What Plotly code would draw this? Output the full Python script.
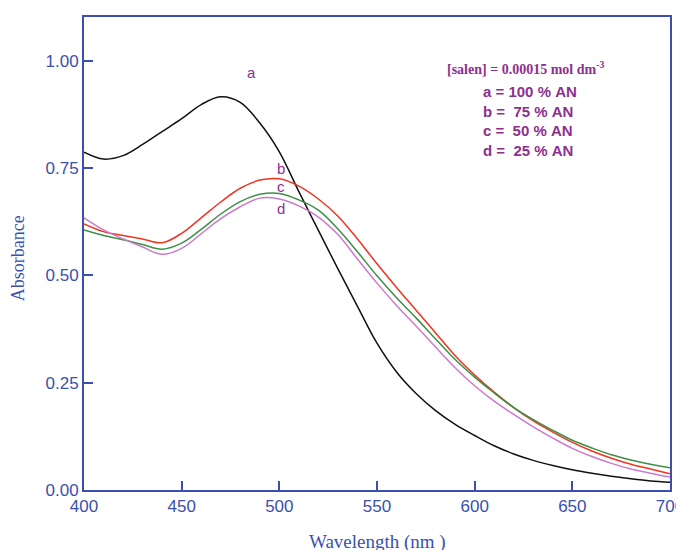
import plotly.graph_objects as go

wavelength = [400, 410, 420, 430, 440, 450, 460, 470, 480, 490, 500, 510, 520, 530, 540,
              550, 560, 570, 580, 590, 600, 610, 620, 630, 640, 650, 660, 670, 680, 690, 700]

abs_a = [0.787, 0.771, 0.779, 0.805, 0.835, 0.865, 0.898, 0.916, 0.903, 0.855, 0.788,
         0.695, 0.605, 0.515, 0.428, 0.342, 0.275, 0.225, 0.185, 0.153, 0.127, 0.103,
         0.084, 0.069, 0.057, 0.047, 0.039, 0.032, 0.026, 0.021, 0.018]
abs_b = [0.620, 0.602, 0.593, 0.585, 0.576, 0.598, 0.634, 0.671, 0.703, 0.722, 0.725,
         0.708, 0.678, 0.638, 0.585, 0.527, 0.472, 0.419, 0.366, 0.313, 0.268, 0.228,
         0.192, 0.161, 0.135, 0.111, 0.091, 0.074, 0.060, 0.049, 0.038]
abs_c = [0.606, 0.593, 0.583, 0.572, 0.561, 0.575, 0.607, 0.643, 0.672, 0.689, 0.691,
         0.676, 0.652, 0.608, 0.555, 0.499, 0.448, 0.401, 0.352, 0.304, 0.263, 0.226,
         0.192, 0.164, 0.139, 0.116, 0.098, 0.082, 0.070, 0.060, 0.052]
abs_d = [0.634, 0.606, 0.585, 0.566, 0.549, 0.563, 0.597, 0.632, 0.660, 0.680, 0.678,
         0.662, 0.636, 0.595, 0.538, 0.482, 0.430, 0.382, 0.333, 0.285, 0.243, 0.207,
         0.176, 0.147, 0.121, 0.097, 0.078, 0.062, 0.049, 0.039, 0.030]

series_names = ["a", "b", "c", "d"]
series_values = [abs_a, abs_b, abs_c, abs_d]
series_colors = ["#111111", "#F2331F", "#3D8F45", "#CC7ACC"]

curve_labels = ["a", "b", "c", "d"]
curve_label_x = [486, 501, 501, 501]
curve_label_y = [0.972, 0.750, 0.708, 0.657]

legend_lines = ["a = 100 % AN", "b =  75 % AN", "c =  50 % AN", "d =  25 % AN"]

x_ticks = [400, 450, 500, 550, 600, 650, 700]
y_ticks = [0.00, 0.25, 0.50, 0.75, 1.00]
y_tick_text = ["0.00", "0.25", "0.50", "0.75", "1.00"]

AXIS = "#3B4FAE"
PURPLE = "#8E2F8E"

fig = go.Figure()
for name, vals, col in zip(series_names, series_values, series_colors):
    fig.add_trace(go.Scatter(x=wavelength, y=vals, mode="lines", name=name,
                             line=dict(color=col, width=1.5, shape="spline", smoothing=1.0),
                             showlegend=False))

for t, x, y in zip(curve_labels, curve_label_x, curve_label_y):
    fig.add_annotation(x=x, y=y, text=t, showarrow=False,
                       font=dict(family="Liberation Sans", size=15, color=PURPLE))

fig.add_annotation(x=584.8, y=0.984, xanchor="left", yanchor="middle",
                   text="<b>[salen] = 0.00015 mol dm<sup>-3</sup></b>", showarrow=False,
                   font=dict(family="Liberation Serif", size=14, color=PURPLE))
for i, line in enumerate(legend_lines):
    fig.add_annotation(x=603.3, y=0.928 - i * 0.0455, xanchor="left", yanchor="middle",
                       text="<b>" + line.replace(" ", "&nbsp;") + "</b>", showarrow=False,
                       font=dict(family="Liberation Sans", size=15, color=PURPLE))

fig.add_annotation(xref="paper", yref="paper", x=0.5, y=0, yshift=-52,
                   text="Wavelength (nm )", showarrow=False, yanchor="middle",
                   font=dict(family="Liberation Serif", size=19, color=AXIS))
fig.add_annotation(xref="paper", yref="paper", x=0, xshift=-66, y=0.49,
                   text="Absorbance", showarrow=False, textangle=-90, xanchor="center",
                   font=dict(family="Liberation Serif", size=18, color=AXIS))

fig.update_xaxes(range=[400, 700], tickvals=x_ticks, ticks="inside", ticklen=9,
                 tickwidth=2, tickcolor=AXIS, showline=True, linecolor=AXIS, linewidth=2,
                 mirror=True, showgrid=False, zeroline=False,
                 tickfont=dict(family="Liberation Sans", size=17, color=AXIS))
fig.update_yaxes(range=[0, 1.102], tickvals=y_ticks, ticktext=y_tick_text, ticks="inside",
                 ticklen=9, tickwidth=2, tickcolor=AXIS, showline=True, linecolor=AXIS,
                 linewidth=2, mirror=True, showgrid=False, zeroline=False,
                 tickfont=dict(family="Liberation Sans", size=17, color=AXIS))

fig.update_layout(width=684, height=550, margin=dict(l=76, r=22, t=7, b=68),
                  plot_bgcolor="white", paper_bgcolor="white")

fig.write_html("out.html")
